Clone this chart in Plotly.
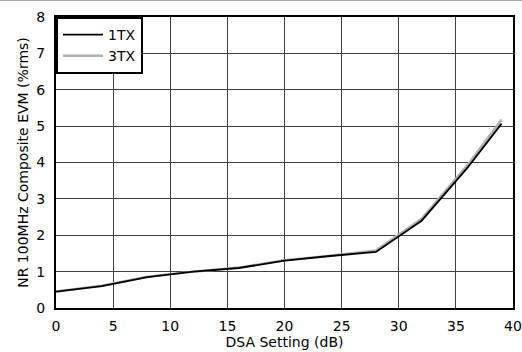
import plotly.graph_objects as go

dsa = [0, 4, 8, 12, 16, 20, 24, 28, 32, 36, 39]
evm_1tx = [0.45, 0.60, 0.85, 1.00, 1.10, 1.30, 1.43, 1.54, 2.40, 3.85, 5.07]
evm_3tx = [0.45, 0.61, 0.86, 1.00, 1.11, 1.31, 1.44, 1.58, 2.45, 3.92, 5.18]

x_ticks = [0, 5, 10, 15, 20, 25, 30, 35, 40]
y_ticks = [0, 1, 2, 3, 4, 5, 6, 7, 8]

FONT = "DejaVu Sans, Arial, sans-serif"
FS = 14

fig = go.Figure()
fig.add_trace(go.Scatter(x=dsa, y=evm_3tx, mode="lines", name="3TX",
                         line=dict(color="#b0b0b0", width=2.5), legendrank=2))
fig.add_trace(go.Scatter(x=dsa, y=evm_1tx, mode="lines", name="1TX",
                         line=dict(color="black", width=1.8), legendrank=1))

axis_common = dict(showgrid=True, gridcolor="#404040", gridwidth=1,
                   showline=True, linecolor="black", linewidth=2, mirror=True,
                   zeroline=False, ticks="", automargin=False,
                   tickfont=dict(size=FS, color="black", family=FONT))

fig.update_xaxes(range=[0, 40], tickvals=x_ticks, ticklabelstandoff=4,
                 title=dict(text="DSA Setting (dB)", font=dict(size=FS, color="black", family=FONT), standoff=0),
                 **axis_common)
fig.update_yaxes(range=[0, 8], tickvals=y_ticks, ticklabelstandoff=6,
                 title=dict(text="NR 100MHz Composite EVM (%rms)", font=dict(size=FS, color="black", family=FONT), standoff=4),
                 **axis_common)

fig.update_layout(
    width=522, height=352,
    margin=dict(l=56, r=9, t=17, b=44),
    paper_bgcolor="white", plot_bgcolor="white",
    font=dict(family=FONT, size=FS, color="black"),
    legend=dict(x=0, y=1, xanchor="left", yanchor="top",
                bgcolor="white", bordercolor="black", borderwidth=2,
                font=dict(size=FS, family=FONT), tracegroupgap=0,
                itemwidth=40, traceorder="normal"),
    shapes=[dict(type="line", xref="paper", yref="paper",
                 x0=-56/457, x1=1+9/457, y0=1.0567, y1=1.0567,
                 line=dict(color="#a8a8a8", width=1))],
)

fig.write_html("out.html", config={"displayModeBar": False},
               post_script="document.body.style.margin='0';document.body.style.padding='0';")
